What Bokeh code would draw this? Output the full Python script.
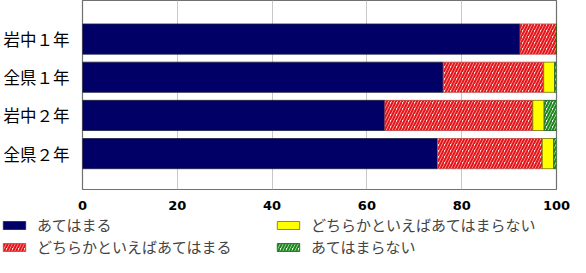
from bokeh.plotting import figure
from bokeh.models import ColumnDataSource, FixedTicker, Legend, Range1d
from bokeh.layouts import column
from bokeh.embed import file_html
from bokeh.resources import INLINE

categories = ["岩中１年", "全県１年", "岩中２年", "全県２年"]
y_pos = [3, 2, 1, 0]
s_agree = [92.3, 76.1, 63.8, 74.9]
s_some_agree = [7.7, 21.2, 31.2, 22.1]
s_some_disagree = [0.0, 2.3, 2.4, 2.4]
s_disagree = [0.0, 0.4, 2.6, 0.6]
series_names = ["あてはまる", "どちらかといえばあてはまる", "どちらかといえばあてはまらない", "あてはまらない"]
x_ticks = [0, 20, 40, 60, 80, 100]

fills = ["#000066", "#fde6dc", "#ffff00", "#ffffff"]
lcolors = ["#202040", "#c04040", "#707000", "#1a5a1a"]
hpatterns = ["blank", "/", "blank", "/"]
hcolors = ["#000066", "#e8141c", "#ffff00", "#1a8a1a"]

src = ColumnDataSource(dict(y=y_pos, a=s_agree, b=s_some_agree, c=s_some_disagree, d=s_disagree))

p = figure(width=570, height=212, output_backend="svg", toolbar_location=None,
           x_range=Range1d(0, 100), y_range=Range1d(-0.94, 4.01),
           min_border_left=82, min_border_right=14, min_border_top=0, min_border_bottom=20)
p.frame_align = False

renderers = p.hbar_stack(["a", "b", "c", "d"], y="y", height=0.79, source=src,
                         fill_color=fills, line_color=lcolors, line_width=0.8,
                         hatch_pattern=hpatterns, hatch_color=hcolors,
                         hatch_scale=6, hatch_weight=2.2)

p.xaxis.ticker = FixedTicker(ticks=x_ticks)
p.xaxis.major_label_text_font = "DejaVu Sans"
p.xaxis.major_label_text_font_style = "bold"
p.xaxis.major_label_text_font_size = "13px"
p.xaxis.major_label_text_color = "#000000"
p.xaxis.axis_line_color = None
p.xaxis.major_tick_line_color = None
p.xaxis.minor_tick_line_color = None
p.xaxis.major_label_standoff = 5

p.yaxis.ticker = FixedTicker(ticks=y_pos)
p.yaxis.major_label_overrides = {yv: c for yv, c in zip(y_pos, categories)}
p.yaxis.major_label_text_font = "Noto Sans CJK JP"
p.yaxis.major_label_text_font_size = "16.5px"
p.yaxis.major_label_text_color = "#000000"
p.yaxis.axis_line_color = None
p.yaxis.major_tick_line_color = None
p.yaxis.minor_tick_line_color = None
p.yaxis.major_label_standoff = 7

p.xgrid.grid_line_color = "#c8c8c8"
p.ygrid.grid_line_color = None
p.outline_line_color = "#707070"
p.outline_line_width = 1.2

# legend panel: same series, drawn outside its visible range, only the legend shows
lp = figure(width=570, height=45, output_backend="svg", toolbar_location=None,
            x_range=Range1d(0, 100), y_range=Range1d(20, 21),
            min_border_left=0, min_border_right=0, min_border_top=0, min_border_bottom=0,
            x_axis_type=None, y_axis_type=None)
lp.frame_align = False
lp.outline_line_color = None
lp.xgrid.grid_line_color = None
lp.ygrid.grid_line_color = None
dummies = lp.hbar_stack(["a", "b", "c", "d"], y="y", height=0.79, source=src,
                        fill_color=fills, line_color=lcolors, line_width=0.8,
                        hatch_pattern=hpatterns, hatch_color=hcolors,
                        hatch_scale=6, hatch_weight=2.2)

common = dict(label_text_font="Noto Sans CJK JP", label_text_font_size="15px",
              glyph_width=28, glyph_height=10, label_height=21, label_standoff=9,
              spacing=1, padding=0, margin=0, border_line_color=None,
              background_fill_alpha=0)
leg1 = Legend(items=[(series_names[0], [dummies[0]]), (series_names[1], [dummies[1]])],
              location=(0, 0), **common)
leg2 = Legend(items=[(series_names[2], [dummies[2]]), (series_names[3], [dummies[3]])],
              location=(274, 0), **common)
lp.add_layout(leg1, "center")
lp.add_layout(leg2, "center")

open("out.html", "w").write(file_html(column(p, lp, spacing=0), INLINE))
